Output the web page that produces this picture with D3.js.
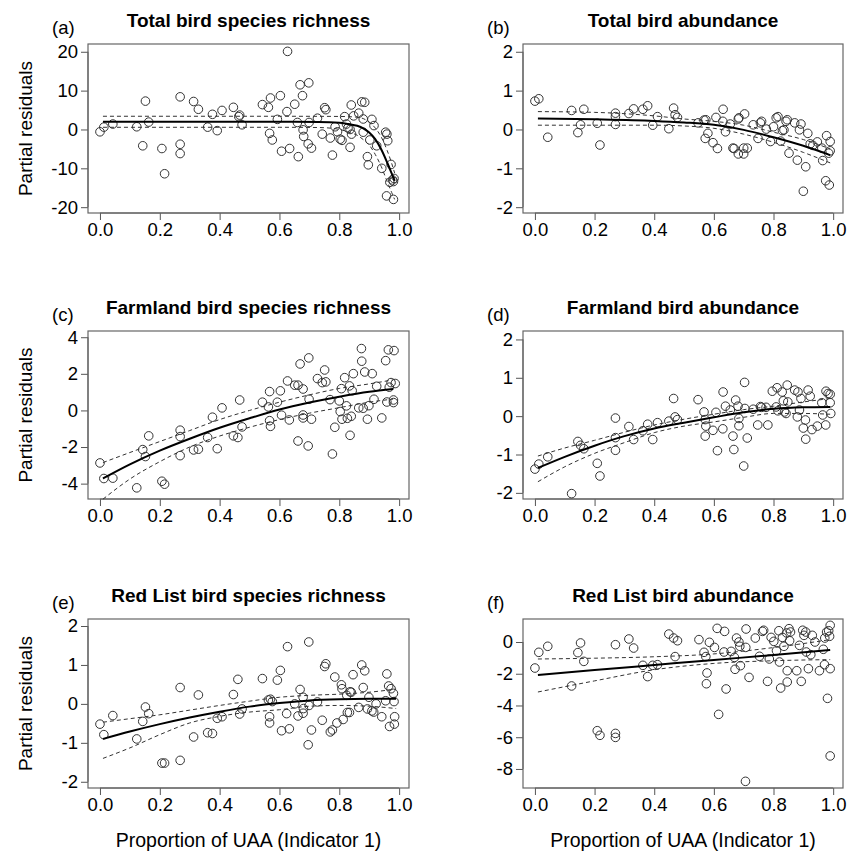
<!DOCTYPE html>
<html>
<head>
<meta charset="utf-8">
<script src="https://cdn.jsdelivr.net/npm/d3@7"></script>
<style>
  body { margin: 0; background: #fff; }
  svg text { font-family: "Liberation Sans", Arial, sans-serif; fill: #000; }
</style>
</head>
<body>
<div class="canvas"></div>
<script>
// x ticks shared by all panels
const xTicks = [0, 0.2, 0.4, 0.6, 0.8, 1.0];

// partial residuals, [proportion UAA, residual]
const pointsA = [[0.00,-0.6],[0.013,0.6],[0.043,1.4],[0.123,0.7],[0.152,7.3],[0.143,-4.2],[0.163,1.9],[0.207,-4.9],[0.216,-11.4],[0.268,8.4],[0.268,-3.8],[0.268,-6.2],[0.313,7.2],[0.329,5.2],[0.36,0.6],[0.376,3.9],[0.392,-0.3],[0.408,4.9],[0.446,5.7],[0.464,3.3],[0.467,3.7],[0.475,1.2],[0.543,6.4],[0.563,5.7],[0.57,8.1],[0.567,-1.0],[0.576,-2.7],[0.593,2.6],[0.603,8.7],[0.607,-5.6],[0.627,20.1],[0.625,4.6],[0.634,-4.9],[0.651,6.5],[0.663,-7.0],[0.669,11.5],[0.677,8.7],[0.66,1.8],[0.679,-0.1],[0.681,-1.8],[0.696,-3.7],[0.707,-4.8],[0.698,12.0],[0.699,1.8],[0.727,2.9],[0.743,-1.2],[0.751,5.6],[0.755,5.1],[0.77,-2.2],[0.777,-6.6],[0.786,0.7],[0.794,-0.6],[0.803,-2.5],[0.809,-2.8],[0.818,3.3],[0.824,1.4],[0.829,0.4],[0.836,0.0],[0.841,-1.2],[0.836,-4.6],[0.84,6.3],[0.848,3.5],[0.865,4.2],[0.875,7.1],[0.885,7.0],[0.88,2.7],[0.88,-0.7],[0.894,-7.0],[0.897,-9.1],[0.902,-2.7],[0.909,2.6],[0.916,1.0],[0.925,-4.2],[0.942,-10.0],[0.955,-0.7],[0.959,-1.2],[0.962,-2.9],[0.958,-17.1],[0.973,-9.0],[0.978,-13.0],[0.983,-12.6],[0.981,-13.4],[0.981,-18.0],[0.969,-13.6]];

const pointsB = [[0.0,0.73],[0.013,0.79],[0.043,-0.2],[0.123,0.49],[0.144,-0.08],[0.153,0.12],[0.164,0.52],[0.209,0.16],[0.218,-0.4],[0.27,0.42],[0.27,0.13],[0.27,0.33],[0.315,0.41],[0.331,0.53],[0.362,0.52],[0.378,0.61],[0.395,0.11],[0.411,0.33],[0.449,0.02],[0.465,0.55],[0.47,0.38],[0.478,0.31],[0.547,0.17],[0.567,0.24],[0.573,0.25],[0.571,-0.23],[0.58,-0.1],[0.597,-0.34],[0.607,0.31],[0.612,-0.49],[0.631,0.52],[0.63,0.21],[0.639,-0.06],[0.655,0.14],[0.664,-0.48],[0.668,-0.49],[0.682,0.27],[0.684,0.3],[0.7,-0.48],[0.682,-0.63],[0.7,-0.63],[0.712,-0.48],[0.703,0.4],[0.732,0.12],[0.748,-0.23],[0.756,0.17],[0.76,0.21],[0.776,0.01],[0.79,-0.31],[0.8,0.07],[0.809,0.3],[0.815,0.33],[0.824,-0.3],[0.83,-0.03],[0.835,-0.01],[0.842,0.21],[0.846,0.25],[0.852,-0.61],[0.871,0.17],[0.88,-0.79],[0.887,-0.01],[0.892,0.14],[0.908,-0.96],[0.9,-1.59],[0.915,-0.1],[0.923,-0.37],[0.932,-0.41],[0.947,-0.32],[0.962,-0.48],[0.965,-0.8],[0.978,-0.16],[0.99,-0.31],[0.975,-1.32],[0.987,-1.43],[0.99,-0.55],[0.985,-0.61]];

const pointsC = [[0.0,-2.87],[0.013,-3.72],[0.043,-3.7],[0.123,-4.23],[0.143,-2.14],[0.152,-2.52],[0.163,-1.39],[0.207,-3.87],[0.216,-4.03],[0.268,-1.08],[0.268,-1.43],[0.268,-2.47],[0.313,-2.16],[0.329,-2.12],[0.36,-1.48],[0.376,-0.37],[0.392,-2.09],[0.408,0.14],[0.446,-1.39],[0.461,-1.48],[0.467,0.57],[0.475,-0.9],[0.543,0.45],[0.563,0.19],[0.567,1.03],[0.567,-0.56],[0.57,-0.87],[0.593,0.45],[0.603,1.07],[0.607,-0.26],[0.627,1.61],[0.633,-0.52],[0.651,1.38],[0.662,1.38],[0.662,-1.67],[0.669,2.54],[0.679,1.17],[0.679,-0.25],[0.679,-0.41],[0.698,2.87],[0.696,-1.94],[0.699,0.61],[0.707,-0.48],[0.727,1.74],[0.743,1.52],[0.751,2.21],[0.755,1.56],[0.769,0.59],[0.777,-2.38],[0.785,-0.92],[0.8,0.52],[0.807,1.19],[0.803,-0.06],[0.809,-0.48],[0.818,1.79],[0.824,0.25],[0.827,-0.43],[0.834,1.34],[0.836,-1.36],[0.84,-0.32],[0.847,2.01],[0.843,1.08],[0.865,0.14],[0.874,3.38],[0.875,2.69],[0.88,0.12],[0.885,2.1],[0.894,-0.48],[0.899,0.26],[0.91,2.01],[0.916,0.61],[0.925,1.32],[0.942,-0.41],[0.955,2.72],[0.959,0.46],[0.964,3.31],[0.973,1.52],[0.983,3.27],[0.987,1.47],[0.981,0.57],[0.981,0.43],[0.967,1.27]];

const pointsD = [[0.0,-1.38],[0.013,-1.25],[0.043,-1.06],[0.123,-2.02],[0.144,-0.66],[0.153,-0.76],[0.164,-0.85],[0.209,-1.23],[0.218,-1.56],[0.27,-0.05],[0.27,-0.56],[0.27,-0.89],[0.315,-0.27],[0.331,-0.61],[0.362,-0.38],[0.378,-0.21],[0.395,-0.61],[0.411,-0.17],[0.449,-0.13],[0.465,0.46],[0.47,-0.02],[0.478,-0.09],[0.547,0.43],[0.567,0.11],[0.571,-0.09],[0.573,-0.26],[0.571,-0.52],[0.597,-0.37],[0.607,0.1],[0.612,-0.9],[0.631,0.63],[0.63,-0.33],[0.639,0.26],[0.655,0.16],[0.664,-0.52],[0.667,-0.87],[0.673,0.42],[0.681,0.26],[0.684,-0.06],[0.684,-0.25],[0.703,0.88],[0.7,-1.3],[0.704,0.2],[0.712,-0.57],[0.732,0.18],[0.747,-0.23],[0.756,0.25],[0.76,0.23],[0.775,0.23],[0.781,-0.23],[0.796,0.65],[0.812,0.74],[0.809,0.24],[0.815,0.14],[0.829,0.63],[0.833,0.4],[0.837,0.11],[0.842,0.07],[0.846,0.81],[0.848,0.37],[0.871,0.68],[0.88,-0.02],[0.882,0.63],[0.887,0.16],[0.892,0.46],[0.9,-0.31],[0.907,-0.1],[0.908,-0.6],[0.916,0.68],[0.923,0.52],[0.929,-0.35],[0.947,-0.26],[0.962,0.35],[0.965,0.03],[0.975,-0.23],[0.976,0.65],[0.983,0.59],[0.99,0.57],[0.99,0.35],[0.992,0.07]];

const pointsE = [[0.0,-0.52],[0.013,-0.79],[0.043,-0.3],[0.123,-0.9],[0.143,-0.45],[0.152,-0.08],[0.163,-0.25],[0.207,-1.52],[0.216,-1.52],[0.268,0.42],[0.268,-1.45],[0.313,-0.85],[0.329,0.23],[0.36,-0.74],[0.376,-0.76],[0.392,-0.37],[0.408,-0.33],[0.446,0.24],[0.461,0.63],[0.467,-0.26],[0.475,-0.13],[0.543,0.65],[0.563,0.1],[0.57,0.12],[0.567,-0.33],[0.567,-0.49],[0.576,0.06],[0.593,0.61],[0.603,0.86],[0.607,-0.69],[0.627,1.47],[0.624,-0.25],[0.633,-0.64],[0.651,0.0],[0.662,-0.31],[0.669,0.37],[0.679,0.17],[0.679,-0.24],[0.68,-0.12],[0.698,1.59],[0.696,-1.05],[0.699,-0.04],[0.707,-0.67],[0.727,0.05],[0.743,-0.42],[0.751,0.96],[0.755,1.03],[0.77,-0.72],[0.777,-0.67],[0.785,0.69],[0.792,-0.49],[0.807,0.49],[0.809,0.39],[0.813,-0.4],[0.825,0.22],[0.827,-0.22],[0.834,-0.22],[0.836,0.31],[0.84,0.3],[0.846,0.75],[0.865,-0.09],[0.875,1.0],[0.88,0.42],[0.885,0.85],[0.894,-0.13],[0.899,0.17],[0.909,-0.18],[0.915,-0.21],[0.923,0.0],[0.942,-0.33],[0.959,0.77],[0.955,0.08],[0.965,0.46],[0.973,0.39],[0.981,0.27],[0.983,0.06],[0.968,-0.58],[0.985,-0.33],[0.984,-0.52]];

const pointsF = [[0.0,-1.64],[0.013,-0.65],[0.043,-0.27],[0.123,-2.77],[0.144,-0.67],[0.153,-0.06],[0.164,-1.22],[0.209,-5.59],[0.218,-5.88],[0.27,-5.76],[0.27,-6.01],[0.27,-0.17],[0.315,0.19],[0.331,-0.38],[0.362,-1.47],[0.378,-2.18],[0.395,-1.47],[0.411,-1.43],[0.449,0.5],[0.465,0.25],[0.47,-0.92],[0.478,0.08],[0.55,0.15],[0.567,-0.65],[0.573,-0.92],[0.577,-1.95],[0.575,-2.63],[0.585,-0.02],[0.602,-0.34],[0.611,0.86],[0.616,-4.56],[0.634,-0.63],[0.636,0.67],[0.641,-2.96],[0.658,-0.59],[0.669,-0.97],[0.671,-1.72],[0.676,0.25],[0.684,0.0],[0.687,-0.27],[0.689,-1.49],[0.707,-0.34],[0.708,0.82],[0.706,-8.78],[0.718,-2.23],[0.739,0.25],[0.753,-0.9],[0.763,0.67],[0.767,0.74],[0.78,-2.48],[0.786,-1.07],[0.792,0.29],[0.801,0.04],[0.81,-0.55],[0.818,0.71],[0.824,-2.9],[0.82,-1.26],[0.83,0.29],[0.835,-0.27],[0.844,0.57],[0.852,0.84],[0.854,0.08],[0.846,-2.52],[0.846,-1.81],[0.857,0.63],[0.878,-1.81],[0.887,-0.21],[0.893,-2.48],[0.898,0.74],[0.902,0.42],[0.908,0.63],[0.91,-0.63],[0.917,-1.68],[0.925,-0.8],[0.93,0.42],[0.939,0.0],[0.954,-1.81],[0.967,-0.46],[0.971,-1.43],[0.972,0.25],[0.981,-3.55],[0.978,0.63],[0.988,0.36],[0.99,1.05],[0.985,0.71],[0.99,-1.68],[0.99,-7.18]];

// fitted smooth: [x, fit, lower, upper]
const fitA = [[0.01,2.0,0.56,3.4],[0.3,2.0,0.56,3.4],[0.6,2.0,0.56,3.4],[0.73,1.95,0.5,3.38],[0.8,1.75,0.05,3.35],[0.83,1.4,-0.7,3.3],[0.86,0.95,-1.5,3.15],[0.88,0.3,-2.6,2.8],[0.9,-0.8,-4.0,1.9],[0.92,-2.5,-6.4,0.4],[0.94,-5.1,-9.5,-1.9],[0.96,-8.5,-13.4,-5.4],[0.975,-11.3,-16.2,-8.7],[0.985,-13.2,-18.0,-11.2]];
const fitB = [[0.01,0.28,0.11,0.46],[0.2,0.26,0.11,0.44],[0.4,0.22,0.11,0.35],[0.5,0.18,0.09,0.27],[0.6,0.12,0.03,0.21],[0.7,-0.01,-0.12,0.11],[0.8,-0.2,-0.33,-0.07],[0.9,-0.42,-0.59,-0.26],[0.99,-0.66,-0.86,-0.5]];
const fitC = [[0.01,-3.72,-4.85,-2.85],[0.1,-2.95,-3.75,-2.3],[0.2,-2.2,-2.8,-1.7],[0.3,-1.55,-2.0,-1.1],[0.4,-0.95,-1.4,-0.5],[0.5,-0.43,-0.92,0.0],[0.6,0.05,-0.5,0.45],[0.7,0.43,-0.15,0.85],[0.8,0.75,0.15,1.2],[0.9,1.02,0.45,1.45],[0.98,1.17,0.62,1.67]];
const fitD = [[0.01,-1.35,-1.71,-1.04],[0.1,-1.06,-1.32,-0.83],[0.2,-0.77,-0.97,-0.63],[0.3,-0.52,-0.69,-0.42],[0.4,-0.32,-0.43,-0.23],[0.5,-0.17,-0.26,-0.08],[0.6,-0.03,-0.15,0.05],[0.7,0.1,-0.03,0.17],[0.8,0.19,0.07,0.26],[0.9,0.23,0.07,0.37],[0.99,0.24,0.05,0.46]];
const fitE = [[0.01,-0.9,-1.4,-0.47],[0.1,-0.71,-1.13,-0.38],[0.2,-0.52,-0.79,-0.28],[0.3,-0.35,-0.49,-0.16],[0.4,-0.2,-0.32,-0.04],[0.5,-0.07,-0.21,0.07],[0.6,0.02,-0.15,0.17],[0.7,0.09,-0.06,0.22],[0.8,0.12,-0.04,0.25],[0.9,0.13,-0.06,0.3],[0.99,0.13,-0.12,0.38]];
const fitF = [[0.01,-2.08,-3.15,-1.07],[0.2,-1.77,-2.45,-1.02],[0.4,-1.45,-1.75,-0.93],[0.6,-1.13,-1.35,-0.75],[0.8,-0.82,-1.18,-0.35],[0.99,-0.5,-1.11,0.15]];

// panel setup
const panels = [
  { tag: '(a)', title: 'Total bird species richness', pts: pointsA, fit: fitA, col: 0, row: 0, yDom: [-21.5, 22], yTicks: [-20, -10, 0, 10, 20] },
  { tag: '(b)', title: 'Total bird abundance', pts: pointsB, fit: fitB, col: 1, row: 0, yDom: [-2.15, 2.2], yTicks: [-2, -1, 0, 1, 2] },
  { tag: '(c)', title: 'Farmland bird species richness', pts: pointsC, fit: fitC, col: 0, row: 1, yDom: [-4.84, 4.34], yTicks: [-4, -2, 0, 2, 4] },
  { tag: '(d)', title: 'Farmland bird abundance', pts: pointsD, fit: fitD, col: 1, row: 1, yDom: [-2.16, 2.22], yTicks: [-2, -1, 0, 1, 2] },
  { tag: '(e)', title: 'Red List bird species richness', pts: pointsE, fit: fitE, col: 0, row: 2, yDom: [-2.16, 2.18], yTicks: [-2, -1, 0, 1, 2] },
  { tag: '(f)', title: 'Red List bird abundance', pts: pointsF, fit: fitF, col: 1, row: 2, yDom: [-9.2, 1.45], yTicks: [-8, -6, -4, -2, 0] }
];

const cols = [[88, 409], [523, 843]];
const rows = [[44, 213], [331, 499], [619, 788]];
const fs = 18.5;

const svg = d3.select('.canvas')
  .append('svg')
  .attr('width', 848)
  .attr('height', 856);

panels.forEach(p => {
  const [x0, x1] = cols[p.col];
  const [y0, y1] = rows[p.row];
  const x = d3.scaleLinear().domain([-0.04, 1.033]).range([x0, x1]);
  const y = d3.scaleLinear().domain(p.yDom).range([y1, y0]);
  const g = svg.append('g');

  // axes (R style: outward ticks, axis line only between end ticks)
  const xAxis = g.append('g')
    .attr('transform', `translate(0, ${y1})`)
    .call(d3.axisBottom(x).tickValues(xTicks).tickFormat(d3.format('.1f')).tickSizeOuter(0).tickSize(7).tickPadding(3));
  const yAxis = g.append('g')
    .attr('transform', `translate(${x0}, 0)`)
    .call(d3.axisLeft(y).tickValues(p.yTicks).tickFormat(d => d < 0 ? '-' + Math.abs(d) : d).tickSizeOuter(0).tickSize(7).tickPadding(3));
  [xAxis, yAxis].forEach(a => {
    a.select('.domain').remove();
    a.selectAll('line').attr('stroke', '#555');
    a.selectAll('text').style('font-size', fs + 'px').style('font-family', '"Liberation Sans", Arial, sans-serif').attr('fill', '#000');
  });
  xAxis.append('line')
    .attr('x1', x(0)).attr('x2', x(1))
    .attr('stroke', '#555');
  yAxis.append('line')
    .attr('y1', y(p.yTicks[0])).attr('y2', y(p.yTicks[p.yTicks.length - 1]))
    .attr('stroke', '#555');

  // box
  g.append('rect')
    .attr('x', x0).attr('y', y0)
    .attr('width', x1 - x0).attr('height', y1 - y0)
    .attr('fill', 'none')
    .attr('stroke', '#666')
    .attr('stroke-width', 1.2);

  // residual points
  g.append('g').selectAll('circle')
    .data(p.pts)
    .enter().append('circle')
      .attr('cx', d => x(d[0]))
      .attr('cy', d => y(d[1]))
      .attr('r', 4.3)
      .attr('fill', 'none')
      .attr('stroke', '#333')
      .attr('stroke-width', 1);

  // smooth + confidence band
  const line = k => d3.line().x(d => x(d[0])).y(d => y(d[k])).curve(d3.curveMonotoneX);
  g.append('path').datum(p.fit)
    .attr('d', line(2)).attr('fill', 'none')
    .attr('stroke', '#333').attr('stroke-width', 1).attr('stroke-dasharray', '4,3');
  g.append('path').datum(p.fit)
    .attr('d', line(3)).attr('fill', 'none')
    .attr('stroke', '#333').attr('stroke-width', 1).attr('stroke-dasharray', '4,3');
  g.append('path').datum(p.fit)
    .attr('d', line(1)).attr('fill', 'none')
    .attr('stroke', '#000').attr('stroke-width', 2);

  // titles
  g.append('text')
    .attr('x', (x0 + x1) / 2).attr('y', y0 - 17)
    .attr('text-anchor', 'middle')
    .style('font-size', '19px').style('font-weight', 'bold')
    .text(p.title);
  g.append('text')
    .attr('x', x0 - 36).attr('y', y0 - 10)
    .style('font-size', fs + 'px')
    .text(p.tag);

  if (p.col === 0) {
    g.append('text')
      .attr('transform', `translate(32, ${(y0 + y1) / 2}) rotate(-90)`)
      .attr('text-anchor', 'middle')
      .style('font-size', '19px')
      .text('Partial residuals');
  }
  if (p.row === 2) {
    g.append('text')
      .attr('x', (x0 + x1) / 2).attr('y', 847)
      .attr('text-anchor', 'middle')
      .style('font-size', '19.5px')
      .text('Proportion of UAA (Indicator 1)');
  }
});
</script>
</body>
</html>
